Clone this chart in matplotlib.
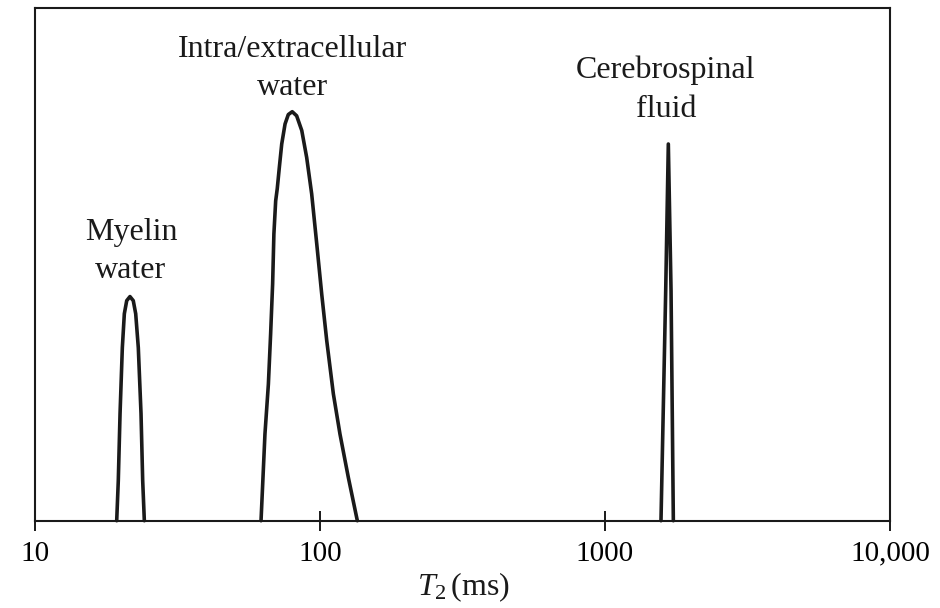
import matplotlib
matplotlib.use("Agg")
import matplotlib.pyplot as plt

plt.rcParams["font.family"] = ["Liberation Serif", "DejaVu Serif"]
plt.rcParams["mathtext.fontset"] = "custom"
plt.rcParams["mathtext.rm"] = "Liberation Serif"
plt.rcParams["mathtext.it"] = "Liberation Serif:italic"

# ---- data (T2 in ms, amplitude in arbitrary units, intra/extra peak = 1) ----
myelin_t2 = [19.35, 19.60, 19.88, 20.25, 20.58, 20.98, 21.54,
             22.12, 22.56, 23.04, 23.55, 23.87, 24.19]
myelin_amp = [0.0, 0.098, 0.262, 0.423, 0.506, 0.538, 0.548,
              0.538, 0.506, 0.423, 0.262, 0.098, 0.0]

ie_t2 = [62.1, 64.1, 65.9, 67.1, 68.2, 68.9, 69.9, 70.8, 72.0, 73.4, 75.4,
         77.4, 79.9, 82.8, 86.3, 89.8, 93.5, 97.4, 101.4, 105.6, 111.4,
         117.5, 125.7, 135.2]
ie_amp = [0.0, 0.212, 0.334, 0.456, 0.579, 0.701, 0.782, 0.812, 0.864,
          0.921, 0.970, 0.993, 1.0, 0.990, 0.954, 0.888, 0.799, 0.677,
          0.554, 0.440, 0.310, 0.212, 0.106, 0.0]

csf_t2 = [1572, 1633, 1668, 1705, 1737]
csf_amp = [0.0, 0.562, 0.921, 0.562, 0.0]

tick_values = [10, 100, 1000, 10000]
tick_labels = ["10", "100", "1000", "10,000"]

peak_labels = ["Myelin\nwater", "Intra/extracellular\nwater", "Cerebrospinal\nfluid"]
label_x = [21.7, 80.1, 1634]
label_y = [0.593, 1.041, 0.988]

# ---- figure ----
fig = plt.figure(figsize=(9.4, 6.08), dpi=100)
ax = fig.add_axes([35 / 940, 87.3 / 608, 855 / 940, 512.7 / 608])

for t, a in [(myelin_t2, myelin_amp), (ie_t2, ie_amp), (csf_t2, csf_amp)]:
    ax.plot(t, a, color="#1a1a1a", lw=2.6, solid_joinstyle="round",
            solid_capstyle="round", clip_on=False)

ax.set_xscale("log")
ax.set_xlim(10, 10000)
ax.set_ylim(0, 512.7 / 409)
ax.set_xticks(tick_values)
ax.set_xticklabels(tick_labels)
ax.xaxis.set_minor_locator(matplotlib.ticker.NullLocator())
ax.set_yticks([])
ax.tick_params(axis="x", direction="inout", length=15, width=1.4,
               labelsize=21, pad=7, color="#1a1a1a")
for s in ax.spines.values():
    s.set_linewidth(1.5)
    s.set_color("#1a1a1a")

for txt, x, y in zip(peak_labels, label_x, label_y):
    ax.text(x, y, txt, ha="center", va="baseline", multialignment="center",
            fontsize=23, linespacing=1.42, color="#1a1a1a")

fig.text(463 / 940, 1 - 595 / 608, r"$T_2\,$(ms)", ha="center", va="baseline",
         fontsize=23, color="#1a1a1a")

fig.savefig("out.png", dpi=100)
